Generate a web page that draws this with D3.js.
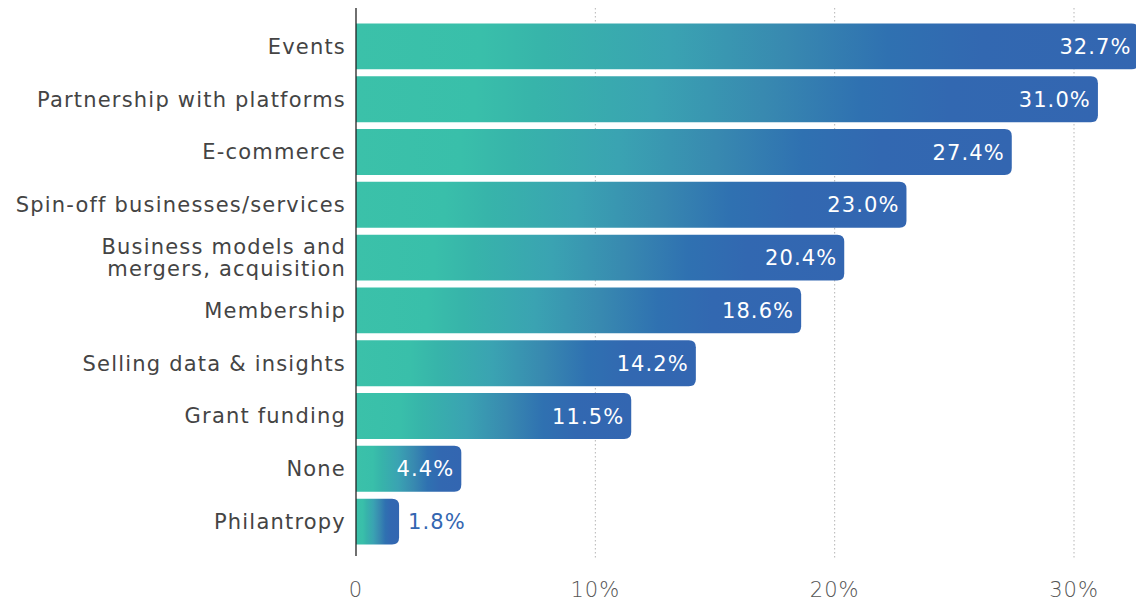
<!DOCTYPE html>
<html>
<head>
<meta charset="utf-8">
<script src="https://cdn.jsdelivr.net/npm/d3@7"></script>
<style>
  html, body { margin: 0; padding: 0; background: #fff; }
  svg { display: block; }
  text { font-family: "DejaVu Sans", "Noto Sans", sans-serif; }
</style>
</head>
<body>
<svg id="chart" width="1136" height="603"></svg>
<script>
// Revenue sources, share of respondents (%)
const categories = [
  ["Events"],
  ["Partnership with platforms"],
  ["E-commerce"],
  ["Spin-off businesses/services"],
  ["Business models and", "mergers, acquisition"],
  ["Membership"],
  ["Selling data & insights"],
  ["Grant funding"],
  ["None"],
  ["Philantropy"]
];
const values = [32.7, 31.0, 27.4, 23.0, 20.4, 18.6, 14.2, 11.5, 4.4, 1.8];
const tickValues = [0, 10, 20, 30];
const tickLabels = ["0", "10%", "20%", "30%"];

const svg = d3.select("#chart");

const x = d3.scaleLinear().domain([0, 30]).range([356, 1074]);
const y = d3.scaleBand()
  .domain(d3.range(values.length))
  .range([20, 548])
  .paddingInner(0.13)
  .paddingOuter(0.065);

// Gradient shared by every bar, stretched over each bar's own width
const defs = svg.append("defs");
const grad = defs.append("linearGradient")
  .attr("id", "barGrad")
  .attr("x1", "0").attr("x2", "1").attr("y1", "0").attr("y2", "0");
[
  [0.00, "#3bc1a9"],
  [0.16, "#39bfaa"],
  [0.24, "#37b4aa"],
  [0.40, "#3aa3b2"],
  [0.55, "#3889b0"],
  [0.68, "#2f71b1"],
  [0.80, "#3268b1"],
  [1.00, "#3366b1"]
].forEach(([o, c]) => grad.append("stop").attr("offset", o).attr("stop-color", c));

// Dotted vertical gridlines
svg.append("g")
  .selectAll("line")
  .data(tickValues.filter(d => d > 0))
  .join("line")
  .attr("x1", d => x(d)).attr("x2", d => x(d))
  .attr("y1", 8).attr("y2", 560)
  .attr("stroke", "#b5b5b5")
  .attr("stroke-width", 1)
  .attr("stroke-dasharray", "1.5,2.5");

// Bars: square on the left, rounded on the right
const r = 7;
function barPath(v, i) {
  const x0 = x(0), x1 = x(v), y0 = y(i), h = y.bandwidth();
  const rr = Math.min(r, (x1 - x0) / 2);
  return `M${x0},${y0}H${x1 - rr}Q${x1},${y0} ${x1},${y0 + rr}` +
         `V${y0 + h - rr}Q${x1},${y0 + h} ${x1 - rr},${y0 + h}H${x0}Z`;
}
svg.append("g")
  .selectAll("path")
  .data(values)
  .join("path")
  .attr("d", (d, i) => barPath(d, i))
  .attr("fill", "url(#barGrad)");

// Value labels
svg.append("g")
  .selectAll("text")
  .data(values)
  .join("text")
  .attr("x", d => d < 3 ? x(d) + 9 : x(d) - 7)
  .attr("y", (d, i) => y(i) + y.bandwidth() / 2)
  .attr("dy", "0.36em")
  .attr("text-anchor", d => d < 3 ? "start" : "end")
  .attr("fill", d => d < 3 ? "#3366b1" : "#ffffff")
  .attr("font-size", 21)
  .attr("letter-spacing", 1.1)
  .text(d => d.toFixed(1) + "%");

// Category labels
const labels = svg.append("g")
  .selectAll("text")
  .data(categories)
  .join("text")
  .attr("x", 346)
  .attr("y", (d, i) => y(i) + y.bandwidth() / 2)
  .attr("text-anchor", "end")
  .attr("fill", "#444")
  .attr("font-size", 21)
  .attr("letter-spacing", 1.2);
labels.each(function(lines) {
  const t = d3.select(this);
  const lh = 22;
  lines.forEach((line, k) => {
    t.append("tspan")
      .attr("x", 346)
      .attr("dy", k === 0 ? (0.35 * 21 - (lines.length - 1) * lh / 2) : lh)
      .text(line);
  });
});

// Vertical baseline axis
svg.append("line")
  .attr("x1", x(0)).attr("x2", x(0))
  .attr("y1", 8).attr("y2", 556)
  .attr("stroke", "#222")
  .attr("stroke-width", 1.3);

// Tick labels
svg.append("g")
  .selectAll("text")
  .data(tickValues)
  .join("text")
  .attr("x", d => x(d))
  .attr("y", 597)
  .attr("text-anchor", "middle")
  .attr("fill", "#555")
  .attr("font-size", 21)
  .attr("font-weight", 200)
  .attr("letter-spacing", 1)
  .text((d, i) => tickLabels[i]);
</script>
</body>
</html>
